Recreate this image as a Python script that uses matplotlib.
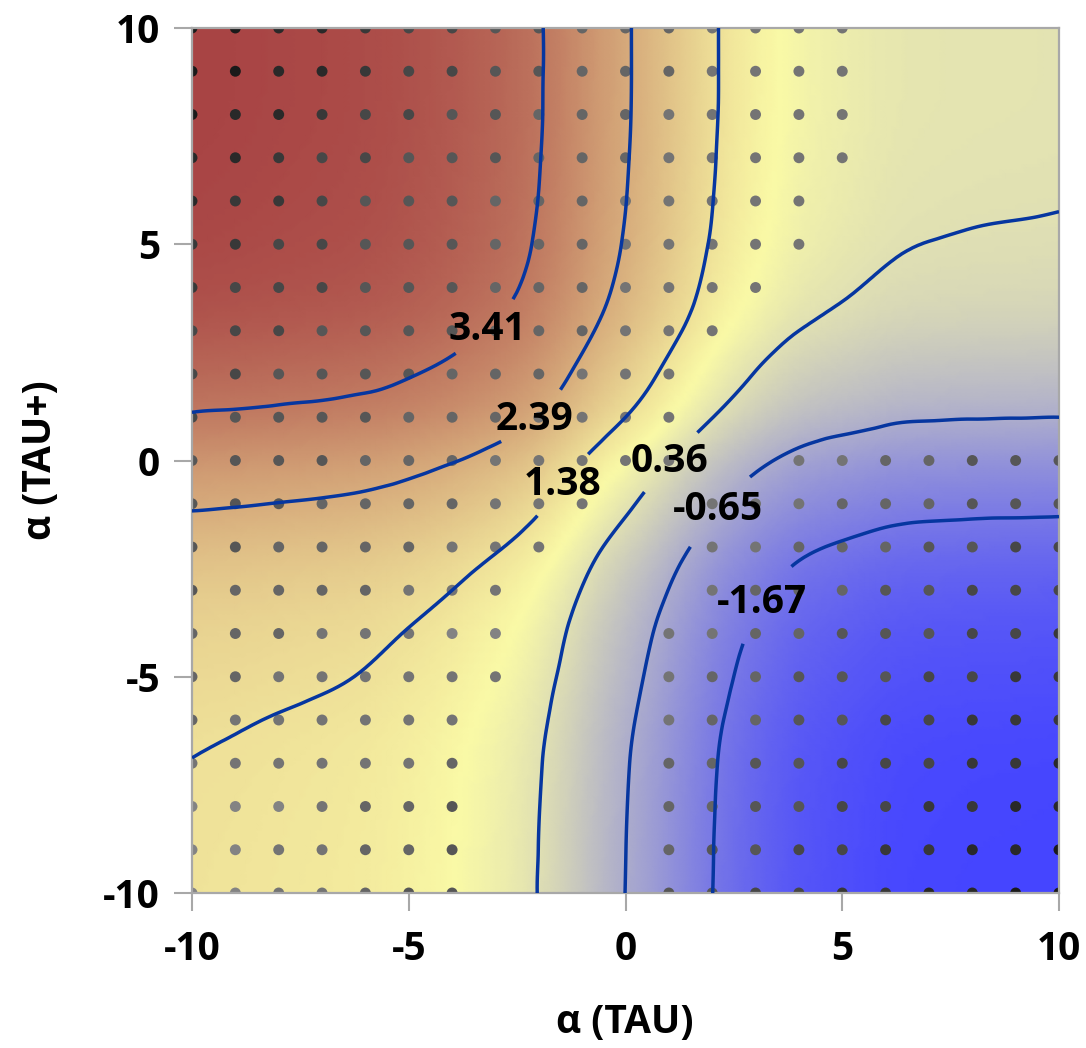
import numpy as np
import matplotlib
matplotlib.use("Agg")
import matplotlib.pyplot as plt
import matplotlib.tri as mtri
from matplotlib.colors import LinearSegmentedColormap, Normalize

# grille des alpha
alpha_tau = np.arange(-10, 11)
alpha_tau_plus = np.arange(-10, 11)

effet_tau = [1.98, 1.95, 1.91, 1.87, 1.81, 1.70, 1.54, 1.32, 1.00, 0.50, 0.00,
             -0.50, -1.01, -1.40, -1.68, -1.83, -1.94, -1.99, -2.01, -2.02, -2.03]
effet_tau_plus = [-0.655, -0.645, -0.63, -0.605, -0.545, -0.45, -0.34, -0.16, 0.11, 0.47, 0.88,
                  1.38, 1.74, 2.04, 2.24, 2.345, 2.40, 2.43, 2.45, 2.455, 2.455]

niveaux = [-1.67, -0.65, 0.36, 1.38, 2.39, 3.41]

# points de la grille : une ligne par alpha(TAU+) de 10 a -10,
# chiffre = niveau de gris (0 sombre, 9 clair), '.' = pas de point
points = [
    "0011233" "4455566" "66.....",
    "0011233" "4455566" "66.....",
    "0112334" "4555666" "66.....",
    "1123344" "4555666" "66.....",
    "1223444" "5556666" "6......",
    "2233444" "5556666" "6......",
    "2333444" "5556666" ".......",
    "3334444" "555666." ".......",
    "3344445" "55666.." ".......",
    "3444455" "56666.." ".......",
    "4444555" "66666.." "6655444",
    "4445555" "666..66" "6555444",
    "4455556" "66...66" "5554433",
    "4555566" "6....65" "5544333",
    "5556667" "7...665" "5444332",
    "5566666" "6...655" "4443322",
    "5666666" "....655" "4433222",
    "6666665" "....554" "4333221",
    "7776554" "....554" "4332211",
    "7766554" "....544" "3322110",
    "7766544" "....443" "3221100",
]

plt.rcParams['font.family'] = ['Open Sans', 'DejaVu Sans']
plt.rcParams['font.weight'] = 'bold'
plt.rcParams['axes.unicode_minus'] = False

X, Y = np.meshgrid(alpha_tau, alpha_tau_plus)
Z = np.add.outer(effet_tau_plus, effet_tau)

tri = mtri.Triangulation(X.ravel(), Y.ravel())
tri_fin, z_fin = mtri.UniformTriRefiner(tri).refine_field(Z.ravel(), subdiv=3)

cmap = LinearSegmentedColormap.from_list("bleu_jaune_rouge", ["#4545ff", "#fafaa6", "#a84444"])
norm = Normalize(vmin=Z.min(), vmax=Z.max())

fig = plt.figure(figsize=(10.86, 10.48), dpi=100)
ax = fig.add_axes([192 / 1086, 155 / 1048, 867 / 1086, 865 / 1048])

ax.tripcolor(tri_fin, z_fin, shading='gouraud', cmap=cmap, norm=norm, zorder=1)

# points
px, py, gris = [], [], []
for i, ligne in enumerate(points):
    for j, c in enumerate(ligne):
        if c != '.':
            px.append(alpha_tau[j])
            py.append(alpha_tau_plus[::-1][i])
            v = (26 + 15 * int(c)) / 255
            gris.append((v, v, v))
ax.scatter(px, py, s=62, c=gris, linewidths=0, zorder=2)

cs = ax.tricontour(tri_fin, z_fin, levels=niveaux, colors='#0636a0', linewidths=2.5,
                   linestyles='solid', zorder=3)
pos_labels = [(3.2, -3.3), (2.2, -1.2), (1.0, 0.0), (-1.4, -0.6), (-2.15, 1.0), (-3.2, 3.05)]
txt = ax.clabel(cs, fmt={lv: f"{lv:.2f}" for lv in niveaux}, inline=True, inline_spacing=1,
                fontsize=28, colors='black', manual=pos_labels)
for t in txt:
    t.set_rotation(0)
    t.set_zorder(4)

ax.set_xlim(-10, 10)
ax.set_ylim(-10, 10)
ax.set_xticks([-10, -5, 0, 5, 10])
ax.set_yticks([-10, -5, 0, 5, 10])
for s in ax.spines.values():
    s.set_color('#a8a8a8')
    s.set_linewidth(1.6)
ax.tick_params(axis='both', direction='out', length=13, width=1.5, color='#a8a8a8',
               labelsize=28, labelcolor='black')
ax.tick_params(axis='x', pad=14)
ax.tick_params(axis='y', pad=10)

fig.text(625 / 1086, 1 - 1023 / 1048, "α (TAU)", ha='center', va='center', fontsize=28)
fig.text(40 / 1086, 1 - 460 / 1048, "α (TAU+)", ha='center', va='center', fontsize=28, rotation=90)

plt.savefig("out.png", dpi=100)
